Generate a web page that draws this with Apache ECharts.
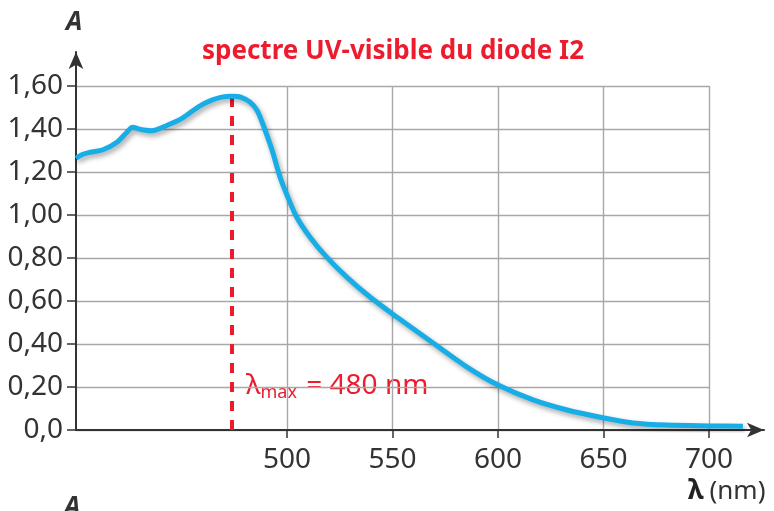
<!DOCTYPE html>
<html>
<head>
<meta charset="utf-8">
<script src="https://cdn.jsdelivr.net/npm/echarts@6/dist/echarts.min.js"></script>
<style>
html,body{margin:0;padding:0;background:#fff;}
#c{width:774px;height:511px;}
</style>
</head>
<body>
<div id="c"></div>
<script>
// ---- data ----
const wavelengths = [400, 403, 406.6, 412.8, 419.4, 424, 426.8, 429, 432, 436, 443, 450.2, 458, 464, 469, 474, 478, 482.5, 485.8, 488.2, 490.5, 493, 496.7, 500.6, 504.6, 510.9, 518.8, 528.3, 539.3, 552, 569.2, 585.3, 600, 616.6, 632.7, 650.2, 664, 680.1, 700, 716];
const absorbance  = [1.265, 1.283, 1.293, 1.305, 1.340, 1.385, 1.410, 1.404, 1.397, 1.393, 1.418, 1.451, 1.505, 1.535, 1.550, 1.554, 1.550, 1.526, 1.488, 1.433, 1.372, 1.300, 1.177, 1.079, 0.991, 0.898, 0.805, 0.712, 0.619, 0.526, 0.405, 0.293, 0.209, 0.140, 0.093, 0.056, 0.033, 0.023, 0.019, 0.017];
const xTickLabels = [500, 550, 600, 650, 700];
const lambdaMaxLine = [474, 1.554]; // position of the dashed marker as drawn
const titleText = 'spectre UV-visible du diode I2';

const seriesData = wavelengths.map((w, i) => [w, absorbance[i]]);
const FONT = '"Noto Sans", "Open Sans", sans-serif';
const RED = '#ec1c2e';

const chart = echarts.init(document.getElementById('c'), null, {renderer: 'canvas'});
chart.setOption({
  animation: false,
  backgroundColor: '#fff',
  grid: [
    {left: 76, top: 86, width: 633, height: 344, containLabel: false},
    {left: 76, top: 52, width: 688, height: 378, containLabel: false}
  ],
  xAxis: [
    {
      gridIndex: 0, type: 'value', min: 400, max: 700, interval: 50,
      axisLine: {show: false},
      axisTick: {show: true, customValues: xTickLabels, length: 8, lineStyle: {color: '#333', width: 1.5}},
      axisLabel: {show: true, customValues: xTickLabels, color: '#333', fontSize: 28, fontFamily: FONT, margin: 16},
      splitLine: {show: true, lineStyle: {color: '#a8a8a8', width: 1.4}}
    },
    {
      gridIndex: 1, type: 'value', min: 400, max: 726,
      axisLine: {show: true, onZero: false, symbol: ['none', 'arrow'], symbolSize: [11, 17], lineStyle: {color: '#333', width: 2}},
      axisTick: {show: false}, axisLabel: {show: false}, splitLine: {show: false}
    }
  ],
  yAxis: [
    {
      gridIndex: 0, type: 'value', min: 0, max: 1.6, interval: 0.2,
      axisLine: {show: false},
      axisTick: {show: true, length: 9, lineStyle: {color: '#333', width: 1.5}},
      axisLabel: {
        color: '#333', fontSize: 28, fontFamily: FONT, margin: 13,
        formatter: v => (v === 0 ? '0,0' : v.toFixed(2).replace('.', ','))
      },
      splitLine: {show: true, lineStyle: {color: '#a8a8a8', width: 1.4}}
    },
    {
      gridIndex: 1, type: 'value', min: 0, max: 1.76,
      axisLine: {show: true, onZero: false, symbol: ['none', 'arrow'], symbolSize: [11, 17], lineStyle: {color: '#333', width: 2}},
      axisTick: {show: false}, axisLabel: {show: false}, splitLine: {show: false}
    }
  ],
  series: [
    {
      type: 'line',
      xAxisIndex: 1, yAxisIndex: 1,
      data: seriesData,
      smooth: 0.3,
      showSymbol: false,
      lineStyle: {color: '#17ade6', width: 5, shadowColor: 'rgba(0,0,0,0.35)', shadowBlur: 5, shadowOffsetX: 2, shadowOffsetY: 3},
      markLine: {
        silent: true,
        symbol: ['none', 'none'],
        label: {show: false},
        lineStyle: {color: RED, width: 4, type: [10, 9]},
        data: [[{coord: [lambdaMaxLine[0], 0]}, {coord: [lambdaMaxLine[0], lambdaMaxLine[1]]}]]
      },
      z: 5
    }
  ],
  graphic: [
    {
      type: 'text', x: 393, y: 52,
      style: {text: titleText, fill: RED, font: 'bold 26px ' + FONT, align: 'center', verticalAlign: 'middle'}
    },
    {
      type: 'text', x: 66, y: 10,
      style: {text: 'A', fill: '#333', font: 'italic bold 26px ' + FONT}
    },
    {
      type: 'text', x: 246, y: 370,
      style: {
        text: '{l|λ}{s|max}{n| = 480 nm}',
        rich: {
          l: {fill: RED, fontSize: 28, fontFamily: FONT},
          s: {fill: RED, fontSize: 18, fontFamily: FONT, padding: [14, 2, 0, 0]},
          n: {fill: RED, fontSize: 28, fontFamily: FONT}
        }
      }
    },
    {
      type: 'text', x: 688, y: 478,
      style: {
        text: '{b|λ}{n|(nm)}',
        rich: {
          b: {fill: '#222', fontSize: 27, fontWeight: 'bold', fontFamily: FONT},
          n: {fill: '#333', fontSize: 26, fontFamily: FONT, padding: [0, 0, 0, 6]}
        }
      }
    },
    {
      type: 'text', x: 64, y: 495,
      style: {text: 'A', fill: '#333', font: 'italic bold 26px ' + FONT}
    }
  ]
});
</script>
</body>
</html>
